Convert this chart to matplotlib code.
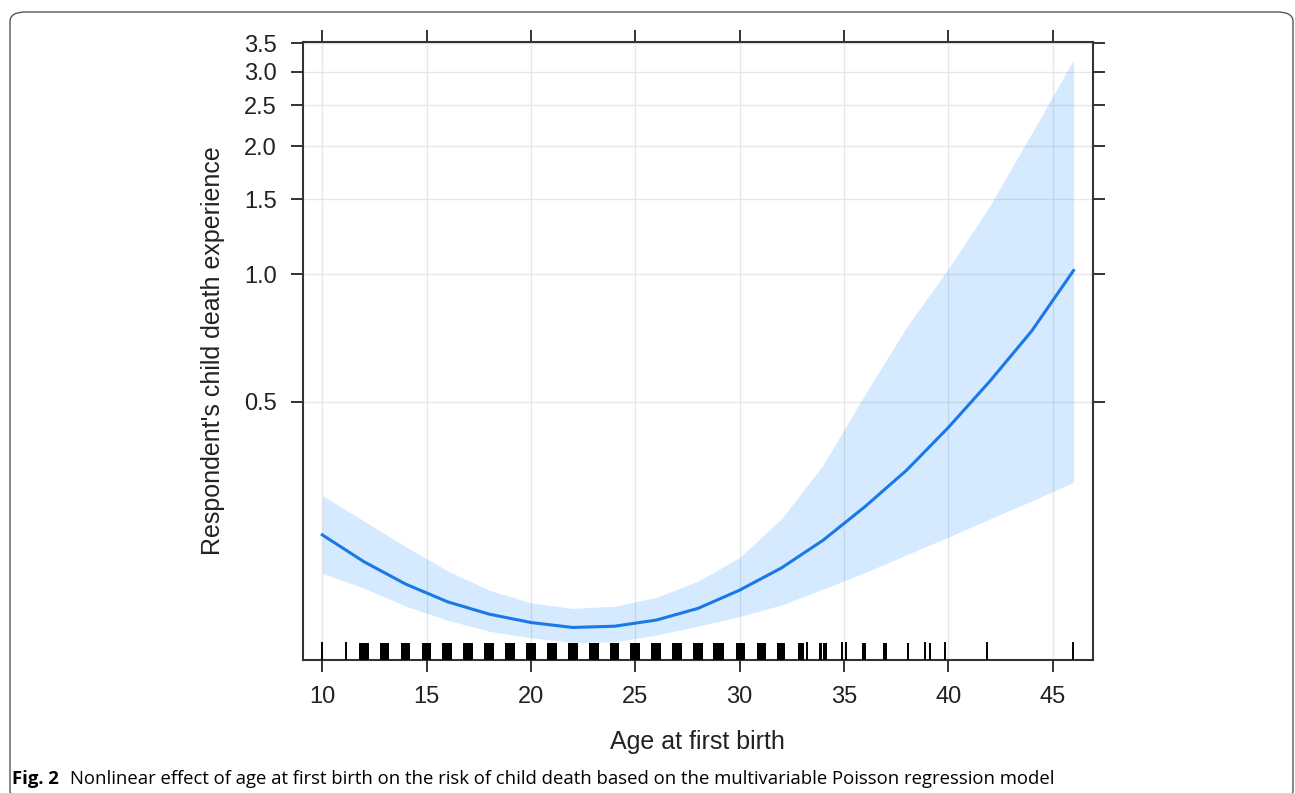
import numpy as np
import matplotlib
matplotlib.use("Agg")
import matplotlib.pyplot as plt
from matplotlib.patches import FancyBboxPatch
from matplotlib.ticker import NullLocator, FixedLocator, FixedFormatter

# fitted effect of age at first birth (response scale) with 95% band
age = [10, 12, 14, 16, 18, 20, 22, 24, 26, 28, 30, 32, 34, 36, 38, 40, 42, 44, 46]
fit = [0.243, 0.210, 0.186, 0.169, 0.158, 0.151, 0.147, 0.148, 0.153, 0.163,
       0.180, 0.203, 0.236, 0.283, 0.345, 0.435, 0.560, 0.735, 1.02]
upper = [0.301, 0.262, 0.228, 0.200, 0.180, 0.168, 0.163, 0.165, 0.173, 0.189,
         0.215, 0.265, 0.355, 0.520, 0.750, 1.03, 1.45, 2.15, 3.2]
lower = [0.197, 0.182, 0.165, 0.153, 0.144, 0.139, 0.1355, 0.136, 0.141, 0.148,
         0.156, 0.166, 0.181, 0.198, 0.218, 0.240, 0.265, 0.292, 0.323]

# rug of observed ages (jittered clusters: start, end)
rug_lo = [9.97, 11.14, 11.75, 12.75, 13.75, 14.76, 15.76, 16.76, 17.76, 18.77,
          19.77, 20.77, 21.77, 22.77, 23.77, 24.77, 25.77, 26.76, 27.76, 28.72,
          29.81, 30.81, 31.79, 32.80, 33.21, 33.79, 33.99, 34.89, 35.10, 35.86,
          36.85, 38.00, 38.83, 39.06, 39.86, 41.87, 45.99]
rug_hi = [9.97, 11.14, 12.22, 13.22, 14.22, 15.23, 16.23, 17.23, 18.23, 19.24,
          20.24, 21.24, 22.24, 23.24, 24.24, 25.24, 26.24, 27.24, 28.24, 29.25,
          30.26, 31.25, 32.17, 33.10, 33.21, 33.95, 34.20, 34.89, 35.10, 36.05,
          37.04, 38.13, 38.91, 39.17, 39.86, 41.87, 45.99]

xticks = [10, 15, 20, 25, 30, 35, 40, 45]
yticks = [0.5, 1.0, 1.5, 2.0, 2.5, 3.0, 3.5]

plt.rcParams['font.family'] = ['Liberation Sans', 'DejaVu Sans']

fig = plt.figure(figsize=(12.95, 7.93), dpi=100)
ax = fig.add_axes([0.2337, 0.1677, 0.6101, 0.7797])

line_col = '#1a78e8'
ax.fill_between(age, lower, upper, color='#0080ff', alpha=0.16, lw=0, zorder=2)
ax.plot(age, fit, color=line_col, lw=2.2, zorder=3)

for lo, hi in zip(rug_lo, rug_hi):
    if hi - lo < 0.1:
        ax.axvline((lo + hi) / 2, ymin=0, ymax=0.027, color='black', lw=1.4, zorder=4)
    else:
        ax.axvspan(lo, hi, ymin=0, ymax=0.027, color='black', lw=0, zorder=4)

ax.set_yscale('log')
ax.set_xlim(9.06, 46.92)
ax.set_ylim(0.1232, 3.53)
ax.xaxis.set_major_locator(FixedLocator(xticks))
ax.yaxis.set_major_locator(FixedLocator(yticks))
ax.yaxis.set_major_formatter(FixedFormatter(['%.1f' % v for v in yticks]))
ax.yaxis.set_minor_locator(NullLocator())

ax.grid(True, color='#e6e6e6', lw=1.0, zorder=0)
ax.set_axisbelow(True)

for s in ax.spines.values():
    s.set_color('#333333')
    s.set_linewidth(1.5)

ax.tick_params(axis='both', which='major', direction='out', length=8.5, width=1.4,
               color='#333333', labelsize=17, labelcolor='#222222',
               top=True, right=True, labeltop=False, labelright=False)
ax.tick_params(axis='x', pad=10)
ax.tick_params(axis='y', pad=10)

ax.set_xlabel('Age at first birth', fontsize=18, color='#222222', labelpad=16)
ax.set_ylabel("Respondent's child death experience", fontsize=18, color='#222222',
              labelpad=14)

# caption and frame
border = FancyBboxPatch((10 / 1295, 1 - 800 / 793), (1293 - 10) / 1295, (800 - 12) / 793,
                        boxstyle='round,pad=0,rounding_size=0.012',
                        transform=fig.transFigure, fill=False,
                        edgecolor='#555555', lw=1.0)
fig.patches.append(border)

t1 = fig.text(12 / 1295, 1 - 784 / 793, 'Fig. 2', fontsize=13.3, fontweight='bold',
              family='Open Sans', va='baseline', ha='left')
ax.annotate('Nonlinear effect of age at first birth on the risk of child death based on '
            'the multivariable Poisson regression model',
            xy=(1, 0), xycoords=t1, xytext=(8, 0), textcoords='offset points',
            fontsize=13.3, family='Open Sans', va='bottom', ha='left',
            annotation_clip=False)

fig.savefig('out.png', dpi=100)
